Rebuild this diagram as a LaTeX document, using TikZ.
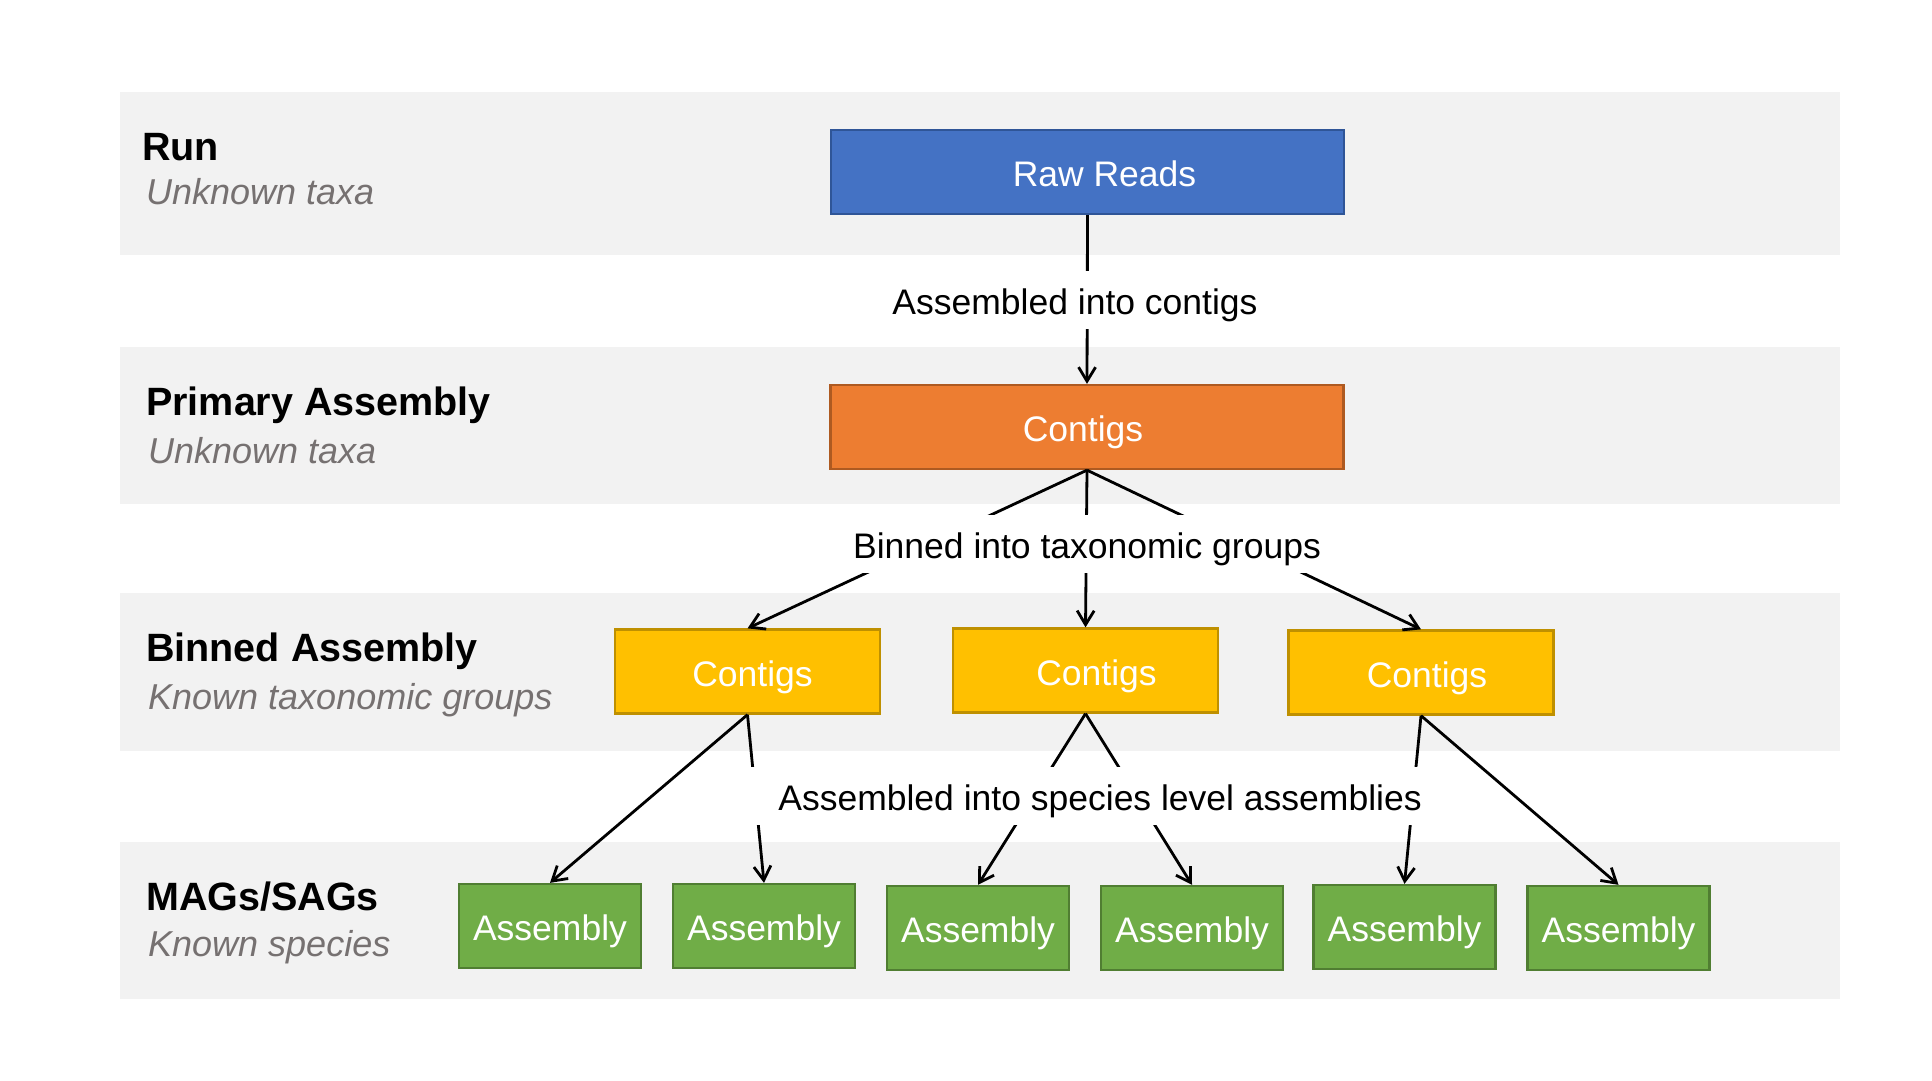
\documentclass[tikz,border=0pt]{standalone}
\usepackage{fontspec}
\setmainfont{Liberation Sans}
\usetikzlibrary{arrows.meta}
\definecolor{bandgray}{HTML}{F2F2F2}
\definecolor{subgray}{HTML}{767171}
\definecolor{blueF}{HTML}{4472C4}\definecolor{blueD}{HTML}{2F5597}
\definecolor{orangeF}{HTML}{ED7D31}\definecolor{orangeD}{HTML}{AE5A21}
\definecolor{yellowF}{HTML}{FFC000}\definecolor{yellowD}{HTML}{BF9000}
\definecolor{greenF}{HTML}{70AD47}\definecolor{greenD}{HTML}{507E32}
\begin{document}
\begin{tikzpicture}[x=1pt,y=-1pt,
  boxfont/.style={font=\fontsize{35.5}{40}\selectfont, text height=29pt, text depth=0pt},
  box/.style={boxfont, draw, line width=2.3pt, text=white, inner sep=0pt, minimum height=84pt},
  wide/.style={box, minimum width=513pt},
  mid/.style={box, minimum width=265pt},
  small/.style={box, minimum width=182pt},
  tshift/.style={execute at begin node={\hspace*{#1}}},
  head/.style={anchor=base west, inner sep=0pt, font=\fontsize{39.5}{44}\selectfont\bfseries},
  sub/.style={anchor=base west, inner sep=0pt, text=subgray, font=\fontsize{36}{42}\selectfont\itshape},
  lbl/.style={boxfont, fill=white, inner ysep=0pt, inner xsep=4pt, minimum height=58pt},
  conn/.style={line width=2.8pt, -{Straight Barb[length=14pt,width=17pt,line width=2.8pt]}}
]
\useasboundingbox (0,0) rectangle (1932,1080);
% bands
\fill[bandgray] (120,92) rectangle (1840,255);
\fill[bandgray] (120,347) rectangle (1840,504);
\fill[bandgray] (120,593) rectangle (1840,751);
\fill[bandgray] (120,842) rectangle (1840,999);
% row headings
\node[head] (h1) at (142,160) {Run};
\node[sub]  (s1) at (146,204) {Unknown taxa};
\node[head] (h2) at (146,415) {Primary Assembly};
\node[sub]  (s2) at (148,463) {Unknown taxa};
\node[head] (h3) at (146,661) {Binned Assembly};
\node[sub]  (s3) at (148,709) {Known taxonomic groups};
\node[head] (h4) at (146,910) {MAGs/SAGs};
\node[sub]  (s4) at (148,956) {Known species};
% boxes
\node[wide, fill=blueF, draw=blueD, tshift=34pt] (raw) at (1087.5,172) {Raw Reads};
\node[wide, fill=orangeF, draw=orangeD, tshift=-8pt] (prim) at (1087,427) {Contigs};
\node[mid, fill=yellowF, draw=yellowD, tshift=10pt] (y1) at (747.5,671.5) {Contigs};
\node[mid, fill=yellowF, draw=yellowD, tshift=22pt] (y2) at (1085.5,670.5) {Contigs};
\node[mid, fill=yellowF, draw=yellowD, tshift=12pt] (y3) at (1421,672.5) {Contigs};
\node[small, fill=greenF, draw=greenD] (g1) at (550,926) {Assembly};
\node[small, fill=greenF, draw=greenD] (g2) at (764,926) {Assembly};
\node[small, fill=greenF, draw=greenD] (g3) at (978,928) {Assembly};
\node[small, fill=greenF, draw=greenD] (g4) at (1192,928) {Assembly};
\node[small, fill=greenF, draw=greenD] (g5) at (1404.5,927) {Assembly};
\node[small, fill=greenF, draw=greenD] (g6) at (1618.5,928) {Assembly};
% connectors
\draw[conn] (raw.south) -- (prim.north);
\draw[conn] (prim.south) -- (y1.north);
\draw[conn] (prim.south) -- (y2.north);
\draw[conn] (prim.south) -- (y3.north);
\draw[conn] (y1.south) -- (g1.north);
\draw[conn] (y1.south) -- (g2.north);
\draw[conn] (y2.south) -- (g3.north);
\draw[conn] (y2.south) -- (g4.north);
\draw[conn] (y3.south) -- (g5.north);
\draw[conn] (y3.south) -- (g6.north);
% labels over connectors
\node[lbl] (l1) at (1075,300) {Assembled into contigs};
\node[lbl] (l2) at (1087,544) {Binned into taxonomic groups};
\node[lbl, inner xsep=30pt] (l3) at (1100,796) {Assembled into species level assemblies};
\end{tikzpicture}
\end{document}
